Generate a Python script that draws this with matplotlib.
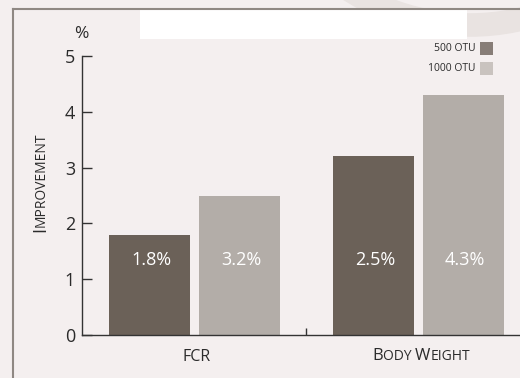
import matplotlib
matplotlib.use("Agg")
import matplotlib.pyplot as plt
from matplotlib.patches import Rectangle, Circle
from matplotlib.lines import Line2D

# ---- data ----
categories = ["FCR", "Body Weight"]
series_names = ["500 OTU", "1000 OTU"]
values_500 = [1.8, 3.2]
values_1000 = [2.5, 4.3]
labels_500 = ["1.8%", "2.5%"]
labels_1000 = ["3.2%", "4.3%"]
y_ticks = [0, 1, 2, 3, 4, 5]

# ---- style ----
FONT = ["Open Sans", "DejaVu Sans"]
plt.rcParams["font.family"] = FONT
BG = "#f4efef"
DARK = "#6b6158"
LIGHT = "#b3ada8"
LEG_DARK = "#877d77"
LEG_LIGHT = "#c9c3bf"
TXT = "#2b2b2b"
W, H = 520, 378

fig = plt.figure(figsize=(W / 100, H / 100), dpi=100, facecolor=BG)

# faint decorative ring in the background (top right)
bgax = fig.add_axes([0, 0, 1, 1], zorder=-10)
bgax.set_xlim(0, W)
bgax.set_ylim(H, 0)
bgax.axis("off")
bgax.add_patch(Circle((470, -200), 225, facecolor="none", edgecolor="#e9e3e1", lw=17))

# frame lines
fig.add_artist(Line2D([13 / W, 1], [1 - 9 / H, 1 - 9 / H], transform=fig.transFigure,
                      color="#8f8883", lw=1.5))
fig.add_artist(Line2D([13 / W, 13 / W], [0, 1 - 9 / H], transform=fig.transFigure,
                      color="#8f8883", lw=1.5))
# white header box
fig.add_artist(Rectangle((140 / W, 1 - 39 / H), (467 - 140) / W, 29.5 / H,
                         transform=fig.transFigure, facecolor="white", edgecolor="none"))

ax = fig.add_axes([82 / W, 1 - 335 / H, (W - 82) / W, (335 - 56) / H])
ax.set_facecolor("none")

x = list(range(len(categories)))
bw = 0.3624
off = 0.2013
b1 = ax.bar([i - off for i in x], values_500, width=bw, color=DARK, zorder=2)
b2 = ax.bar([i + off for i in x], values_1000, width=bw, color=LIGHT, zorder=2)

for rect, lab in zip(b1, labels_500):
    ax.text(rect.get_x() + rect.get_width() / 2 + 0.01, 1.35, lab, color="white",
            ha="center", va="center", fontsize=13, zorder=3)
for rect, lab in zip(b2, labels_1000):
    ax.text(rect.get_x() + rect.get_width() / 2 + 0.01, 1.35, lab, color="white",
            ha="center", va="center", fontsize=13, zorder=3)

ax.set_xlim(-0.503, 1.456)
ax.set_ylim(0, 5)
ax.set_yticks(y_ticks)
ax.set_yticklabels([str(t) for t in y_ticks], fontsize=13, color=TXT)
ax.set_xticks([0.5])
ax.set_xticklabels([""])
ax.tick_params(axis="y", direction="in", length=7.2, width=1, color="#333333", pad=5)
ax.tick_params(axis="x", direction="in", length=5, width=1, color="#333333")
for s in ["top", "right"]:
    ax.spines[s].set_visible(False)
for s in ["left", "bottom"]:
    ax.spines[s].set_color("#333333")
    ax.spines[s].set_linewidth(1)

# % label
fig.text(81 / W, 1 - 38 / H, "%", ha="center", va="baseline", fontsize=12.5, color=TXT)

# legend
for i, (name, col) in enumerate(zip(series_names, [LEG_DARK, LEG_LIGHT])):
    ytop = 42 + i * 20
    fig.add_artist(Rectangle((480 / W, 1 - (ytop + 13) / H), 13 / W, 13 / H,
                             transform=fig.transFigure, facecolor=col, edgecolor="none"))
    fig.text(476 / W, 1 - (ytop + 6.5) / H, name, ha="right", va="center",
             fontsize=7.5, color=TXT)

renderer = fig.canvas.get_renderer()


def small_caps(text, cx, cy, big, small, rotation=0):
    pieces = []
    for ch in text:
        if ch.islower():
            pieces.append((ch.upper(), small))
        else:
            pieces.append((ch, big if ch != " " else small))
    merged = []
    for s, sz in pieces:
        if merged and merged[-1][1] == sz:
            merged[-1] = (merged[-1][0] + s, sz)
        else:
            merged.append((s, sz))
    objs = []
    for s, sz in merged:
        t = fig.text(0, 0, s, fontsize=sz, ha="left", va="baseline", rotation=rotation,
                     rotation_mode="anchor", color=TXT)
        objs.append(t)
    lens = []
    for t in objs:
        ext = t.get_window_extent(renderer)
        lens.append(ext.width if rotation == 0 else ext.height)
    total = sum(lens)
    if rotation == 0:
        pos = cx - total / 2
        for t, l in zip(objs, lens):
            t.set_position((pos / W, 1 - cy / H))
            pos += l
    else:
        pos = cy + total / 2
        for t, l in zip(objs, lens):
            t.set_position((cx / W, 1 - pos / H))
            pos -= l


small_caps("FCR", 197, 361, 11.5, 9.5)
small_caps("Body Weight", 421, 360, 12, 10)
small_caps("Improvement", 45, 182, 13, 10, rotation=90)

fig.savefig("out.png", dpi=100, facecolor=BG)
